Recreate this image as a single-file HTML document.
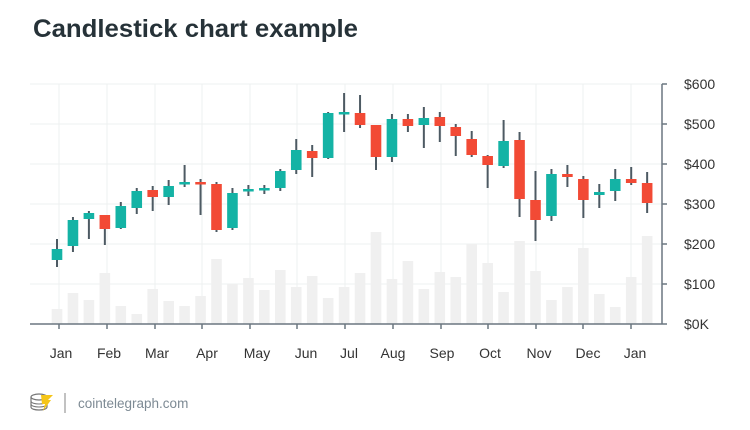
<!DOCTYPE html>
<html><head><meta charset="utf-8"><style>
body{margin:0;background:#fff;width:750px;height:430px;overflow:hidden}
svg{display:block}
text{font-family:"Liberation Sans",sans-serif}
</style></head><body>
<svg id="s" width="750" height="430" viewBox="0 0 750 430">
<text x="33" y="37" font-size="25" font-weight="bold" fill="#263238" textLength="325" lengthAdjust="spacingAndGlyphs">Candlestick chart example</text>
<g id="grid" stroke="#eef0f1" stroke-width="1"></g>
<g id="vol" fill="#f0f0f0"></g>
<g id="cdl"></g>
<line x1="662" y1="84" x2="662" y2="324" stroke="#6b7780" stroke-width="1.5"/>
<line x1="30" y1="324" x2="662" y2="324" stroke="#6b7780" stroke-width="1.5"/>
<g id="ticks" stroke="#6b7780" stroke-width="1.5"></g>
<g font-size="14" fill="#333">
<text x="684" y="89">$600</text><text x="684" y="129">$500</text><text x="684" y="169">$400</text>
<text x="684" y="209">$300</text><text x="684" y="249">$200</text><text x="684" y="289">$100</text>
<text x="684" y="329">$0K</text>
</g>
<g font-size="14" fill="#333" text-anchor="middle">
<text x="61" y="358">Jan</text><text x="109" y="358">Feb</text><text x="157" y="358">Mar</text>
<text x="207" y="358">Apr</text><text x="257" y="358">May</text><text x="306" y="358">Jun</text>
<text x="349" y="358">Jul</text><text x="393" y="358">Aug</text><text x="442" y="358">Sep</text>
<text x="490" y="358">Oct</text><text x="539" y="358">Nov</text><text x="588" y="358">Dec</text>
<text x="635" y="358">Jan</text>
</g>
<g transform="translate(30,393)">
<ellipse cx="9" cy="4" rx="8" ry="3" fill="none" stroke="#777" stroke-width="1.2"/>
<path d="M1 4v10c0 2 4 3 8 3s8-1 8-3V4" fill="none" stroke="#777" stroke-width="1.2"/>
<path d="M1 8c0 2 4 3 8 3s8-1 8-3M1 11c0 2 4 3 8 3s8-1 8-3" fill="none" stroke="#777" stroke-width="1"/>
<path d="M11 2h12l-5 5h3l-8 11 2-7h-3z" fill="#f5c518"/>
</g>
<line x1="65" y1="393" x2="65" y2="413" stroke="#999" stroke-width="1.2"/>
<text x="78" y="408" font-size="13.5" fill="#7d8a94">cointelegraph.com</text>
</svg>
<script>
var NS="http://www.w3.org/2000/svg";
function el(p,t,a){var e=document.createElementNS(NS,t);for(var k in a)e.setAttribute(k,a[k]);document.getElementById(p).appendChild(e);}
for(var y=84;y<324;y+=40)el("grid","line",{x1:30,x2:662,y1:y,y2:y});
var mx=[59,107,155,202,250,297,345,393,441,488,536,583,631];
mx.forEach(function(x){el("grid","line",{x1:x,x2:x,y1:84,y2:324});el("ticks","line",{x1:x,x2:x,y1:324,y2:329});});
for(var y=84;y<=324;y+=40)el("ticks","line",{x1:662,x2:667,y1:y,y2:y});
var C=[["g",249,260,239,267],["g",220,246,217,252],["g",213,219,211,239],["r",215,229,215,245],["g",206,228,202,229],
["g",191,208,188,214],["r",190,197,186,211],["g",186,197,180,205],["g",182,184,165,187],["r",182,184,179,215],
["r",184,230,182,232],["g",193,228,188,230],["g",189,191,185,196],["g",188,190,185,194],["g",171,188,169,191],
["g",150,170,139,174],["r",151,158,145,177],["g",113,158,112,159],["g",112,114,93,132],["r",113,125,95,128],
["r",125,157,125,170],["g",119,157,114,162],["r",119,126,114,132],["g",118,125,107,148],["r",117,126,112,142],
["r",127,136,124,156],["r",139,155,131,157],["r",156,165,155,188],["g",141,166,120,168],["r",140,199,132,217],
["r",200,220,171,241],["g",174,216,169,221],["r",174,177,165,187],["r",179,200,176,218],["g",192,195,184,208],
["g",179,191,169,201],["r",179,183,167,185],["r",183,203,172,213]];
var V=[309,293,300,273,306,314,289,301,306,296,259,284,278,290,270,287,276,298,287,273,232,279,261,289,272,277,244,263,292,241,271,300,287,248,294,307,277,236];
for(var i=0;i<38;i++){var x=57+i*15.95;
el("vol","rect",{x:x-5.3,y:V[i],width:10.6,height:324-V[i]});}
for(var i=0;i<38;i++){var x=57+i*15.95,c=C[i];
el("cdl","line",{x1:x,x2:x,y1:c[3],y2:c[4],stroke:"#4d5a63","stroke-width":2});
el("cdl","rect",{x:x-5.3,y:c[1],width:10.6,height:Math.max(c[2]-c[1],2.5),fill:c[0]=="g"?"#14b3a5":"#f24a35"});}
</script>
</body></html>
